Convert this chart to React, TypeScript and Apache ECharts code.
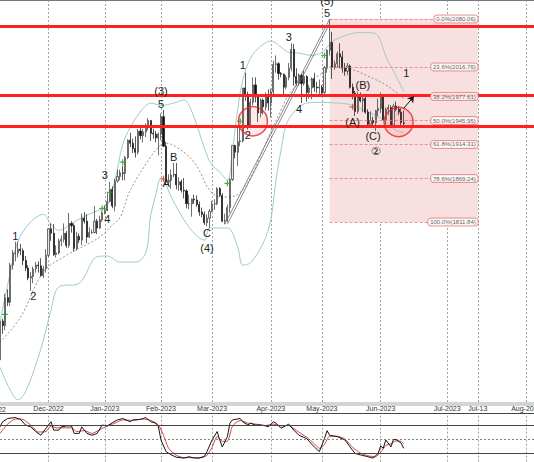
import React, { useEffect, useRef } from "react";
import * as echarts from "echarts";

// ---------- axis definition ----------
const START_DATE = "2022-11-04";
const LAST_BAR_DATE = "2023-06-14";
const AXIS_END_DATE = "2023-08-04";

const TICK_LABELS: Record<string, string> = {
  "2022-12-01": "Dec-2022",
  "2023-01-02": "Jan-2023",
  "2023-02-01": "Feb-2023",
  "2023-03-01": "Mar-2023",
  "2023-04-03": "Apr-2023",
  "2023-05-01": "May-2023",
  "2023-06-01": "Jun-2023",
  "2023-07-01": "Jul-2023",
  "2023-07-13": "Jul-13",
  "2023-08-01": "Aug-2023",
};
const LEFT_CUT_LABEL = "Nov-2022";

// ---------- daily bars [open, close, low, high] ----------
const OHLC: number[][] = [
  [1630, 1681, 1628, 1682], [1681, 1675, 1664, 1684], [1675, 1712, 1669, 1717], [1712, 1706, 1701, 1723],
  [1706, 1755, 1701, 1758], [1755, 1771, 1749, 1775], [1771, 1771, 1760, 1786], [1771, 1776, 1765, 1786],
  [1776, 1774, 1768, 1783], [1774, 1761, 1755, 1777], [1761, 1751, 1747, 1767], [1751, 1738, 1735, 1755],
  [1738, 1740, 1721, 1746], [1740, 1750, 1731, 1753], [1750, 1755, 1745, 1759], [1755, 1754, 1745, 1760],
  [1754, 1741, 1740, 1764], [1741, 1750, 1738, 1754], [1750, 1768, 1745, 1776],
  // Dec
  [1768, 1803, 1766, 1804], [1803, 1797, 1787, 1810], [1797, 1769, 1767, 1809], [1769, 1771, 1765, 1781],
  [1771, 1787, 1769, 1790], [1787, 1789, 1780, 1794], [1789, 1797, 1785, 1810], [1797, 1781, 1778, 1800],
  [1781, 1810, 1778, 1824], [1810, 1807, 1798, 1813], [1807, 1777, 1773, 1810], [1777, 1793, 1774, 1799],
  [1793, 1788, 1784, 1797], [1788, 1817, 1781, 1823], [1817, 1813, 1810, 1825], [1813, 1792, 1784, 1822],
  [1792, 1798, 1791, 1805], [1798, 1798, 1796, 1802], [1798, 1813, 1797, 1833], [1813, 1804, 1796, 1816],
  [1804, 1815, 1803, 1820], [1815, 1824, 1812, 1826],
  // Jan
  [1824, 1827, 1822, 1834], [1827, 1839, 1829, 1850], [1839, 1855, 1838, 1865], [1855, 1833, 1830, 1859],
  [1833, 1866, 1826, 1869], [1866, 1872, 1864, 1881], [1872, 1877, 1867, 1881], [1877, 1876, 1867, 1886],
  [1876, 1897, 1867, 1899], [1897, 1920, 1895, 1921], [1920, 1916, 1911, 1930], [1916, 1909, 1903, 1922],
  [1909, 1904, 1897, 1925], [1904, 1932, 1901, 1935], [1932, 1926, 1921, 1937], [1926, 1931, 1917, 1935],
  [1931, 1937, 1924, 1942], [1937, 1946, 1933, 1949], [1946, 1929, 1919, 1946], [1929, 1928, 1922, 1935],
  [1928, 1923, 1917, 1932], [1923, 1928, 1900, 1930],
  // Feb
  [1928, 1951, 1920, 1955], [1951, 1912, 1911, 1960], [1912, 1865, 1861, 1918], [1865, 1867, 1860, 1875],
  [1867, 1874, 1856, 1881], [1874, 1875, 1871, 1890], [1875, 1861, 1855, 1890], [1861, 1865, 1853, 1871],
  [1865, 1854, 1851, 1868], [1854, 1853, 1843, 1870], [1853, 1836, 1830, 1855], [1836, 1836, 1829, 1848],
  [1836, 1842, 1819, 1843], [1842, 1841, 1836, 1848], [1841, 1835, 1832, 1847], [1835, 1825, 1820, 1839],
  [1825, 1822, 1818, 1831], [1822, 1811, 1808, 1826], [1811, 1817, 1806, 1822], [1817, 1826, 1804, 1829],
  // Mar
  [1826, 1836, 1825, 1840], [1836, 1836, 1828, 1842], [1836, 1856, 1834, 1858], [1856, 1847, 1845, 1858],
  [1847, 1813, 1812, 1850], [1813, 1814, 1809, 1823], [1814, 1831, 1812, 1835], [1831, 1868, 1824, 1870],
  [1868, 1913, 1866, 1913], [1913, 1904, 1896, 1914], [1904, 1918, 1886, 1937], [1918, 1919, 1912, 1937],
  [1919, 1989, 1917, 1989], [1989, 1979, 1972, 2009], [1979, 1940, 1934, 1984], [1940, 1970, 1936, 1975],
  [1970, 1993, 1966, 2003], [1993, 1977, 1970, 2003], [1977, 1956, 1944, 1981], [1956, 1973, 1950, 1975],
  [1973, 1964, 1954, 1975], [1964, 1980, 1959, 1983], [1980, 1969, 1959, 1987],
  // Apr
  [1969, 1984, 1950, 1988], [1984, 2020, 1980, 2025], [2020, 2021, 2009, 2032], [2021, 2008, 2000, 2023],
  [2008, 2007, 2003, 2010], [2007, 1990, 1981, 2008], [1990, 2003, 1987, 2006], [2003, 2015, 1999, 2022],
  [2015, 2040, 2011, 2048], [2040, 2004, 1992, 2047], [2004, 1995, 1992, 2015], [1995, 2006, 1992, 2008],
  [2006, 1995, 1969, 2008], [1995, 2004, 1992, 2012], [2004, 1983, 1971, 2006], [1983, 1989, 1975, 1993],
  [1989, 2001, 1974, 2003], [2001, 1990, 1984, 2009], [1990, 1989, 1982, 1997], [1989, 1990, 1980, 2000],
  // May
  [1990, 1983, 1977, 1993], [1983, 2016, 1978, 2018], [2016, 2039, 2009, 2040], [2039, 2049, 2032, 2080],
  [2049, 2016, 2001, 2063], [2016, 2021, 2013, 2025], [2021, 2034, 2016, 2037], [2034, 2030, 2015, 2048],
  [2030, 2015, 2009, 2038], [2015, 2011, 2005, 2022], [2011, 2018, 2006, 2022], [2018, 1990, 1988, 2020],
  [1990, 1982, 1974, 1995], [1982, 1958, 1952, 1985], [1958, 1977, 1955, 1984], [1977, 1972, 1970, 1983],
  [1972, 1975, 1957, 1978], [1975, 1957, 1955, 1980], [1957, 1941, 1937, 1961], [1941, 1946, 1937, 1958],
  [1946, 1943, 1938, 1951], [1943, 1959, 1932, 1960], [1959, 1962, 1952, 1975],
  // Jun
  [1962, 1978, 1956, 1983], [1978, 1947, 1946, 1979], [1947, 1961, 1938, 1963], [1961, 1963, 1953, 1967],
  [1963, 1940, 1939, 1966], [1940, 1965, 1939, 1968], [1965, 1961, 1958, 1971], [1961, 1957, 1953, 1965],
  [1957, 1943, 1940, 1962], [1943, 1942, 1938, 1959],
];

// ---------- Bollinger bands [barIndex, price] ----------
const BB_UPPER: number[][] = [
  [0, 1680], [3, 1729], [7, 1786], [12, 1812], [17, 1822], [20, 1809], [23, 1801], [29, 1812], [34, 1821],
  [39, 1828], [42, 1834], [45, 1867], [48, 1914], [51, 1937], [56, 1962], [59, 1969], [63, 1966], [68, 1969],
  [72, 1973], [74, 1966], [77, 1940], [81, 1900], [83, 1887], [86, 1878], [89, 1867], [91, 1907], [93, 1960],
  [95, 1999], [98, 2028], [102, 2044], [106, 2051], [110, 2043], [113, 2036], [117, 2035], [122, 2032],
  [126, 2036], [130, 2050], [135, 2058], [140, 2062], [145, 2062], [148, 2058], [151, 2031], [155, 2005], [158, 1984],
];
const BB_MIDDLE: number[][] = [
  [0, 1653], [8, 1686], [17, 1746], [26, 1768], [35, 1784], [39, 1792], [44, 1808], [47, 1818], [51, 1854],
  [59, 1898], [63, 1914], [65, 1916], [69, 1911], [76, 1891], [82, 1854], [86, 1845], [90, 1845], [94, 1851],
  [98, 1870], [102, 1900], [106, 1931], [110, 1960], [113, 1980], [117, 1994], [121, 1999], [125, 2006],
  [130, 2017], [138, 2013], [145, 2003], [151, 1993], [157, 1978], [158, 1975],
];
const BB_LOWER: number[][] = [
  [0, 1620], [4, 1590], [7, 1577], [10, 1588], [14, 1623], [17, 1656], [20, 1696], [23, 1726], [31, 1731],
  [38, 1766], [42, 1767], [47, 1759], [53, 1759], [57, 1771], [59, 1821], [61, 1848], [63, 1870], [65, 1861],
  [67, 1845], [74, 1805], [80, 1788], [82, 1804], [89, 1804], [93, 1779], [95, 1755], [98, 1758], [103, 1784],
  [106, 1815], [108, 1867], [110, 1907], [112, 1940], [115, 1957], [120, 1969], [126, 1970], [132, 1969],
  [137, 1967], [142, 1960], [149, 1949], [155, 1933], [158, 1930],
];

// ---------- levels & annotations ----------
const RESISTANCE_LEVELS = [2071, 1979.5, 1939];
const FIB_START = 129;
const FIB_END = 187;
const FIB_PRICES = [2080.06, 2016.76, 1977.61, 1945.95, 1914.31, 1869.24, 1811.84];
const FIB_TEXTS = ["0.0%(2080.06)", "23.6%(2016.76)", "38.2%(1977.61)", "50.0%(1945.95)", "61.8%(1914.31)", "78.6%(1869.24)", "100.0%(1811.84)"];

const WAVE_LABELS: [string, number, number][] = [
  ["1", 6, 1793], ["2", 13, 1714], ["3", 41, 1874], ["4", 42, 1816],
  ["(3)", 63, 1985], ["5", 63, 1968], ["A", 65, 1863], ["B", 68, 1898],
  ["C", 81, 1797], ["(4)", 81, 1778],
  ["1", 95, 2019], ["2", 97, 1927], ["3", 113, 2056], ["4", 117, 1961],
  ["(5)", 128, 2104], ["5", 128, 2088],
  ["(A)", 138, 1944], ["(B)", 142, 1993], ["(C)", 146, 1925], ["②", 147, 1906],
  ["1", 159, 2009],
];
const GREEN_SIGNALS: number[][] = [[2, 1690], [40, 1830], [43, 1851], [48, 1891], [89, 1863], [94, 1945], [127, 2032]];
const RED_SIGNALS: number[][] = [[64, 1869], [138, 1964]];
const TARGET_ZONES: number[][] = [[99, 1945], [156, 1944]];
const CHANNEL_LINES: number[][][] = [
  [[88, 1809], [129, 2080]],
  [[89, 1809], [129, 2074]],
];
const FORECAST_ARROW: number[][] = [[158, 1962], [162, 1978]];

// ---------- stochastic [barIndex, value] ----------
const STOCH_K: number[][] = [
  [0, 76], [1, 87], [3, 94], [6, 96], [8, 92], [10, 80], [12, 76], [14, 66], [16, 58], [18, 73], [20, 87],
  [21, 69], [23, 69], [24, 76], [26, 78], [28, 78], [29, 62], [31, 62], [32, 76], [34, 62], [36, 58], [38, 62],
  [40, 80], [42, 78], [44, 85], [46, 91], [48, 94], [51, 87], [52, 91], [55, 92], [57, 96], [59, 87], [61, 84],
  [62, 76], [63, 48], [65, 23], [67, 16], [69, 11], [72, 9], [74, 12], [76, 9], [78, 9], [80, 13], [81, 23],
  [83, 48], [85, 66], [86, 48], [87, 33], [89, 55], [90, 84], [91, 91], [94, 94], [95, 87], [97, 80], [98, 84],
  [100, 80], [102, 80], [104, 78], [105, 76], [107, 87], [108, 84], [110, 73], [113, 82], [115, 69], [117, 58],
  [120, 51], [123, 33], [125, 23], [127, 51], [128, 68], [129, 58], [132, 55], [135, 48], [137, 33], [139, 19],
  [141, 16], [144, 12], [146, 9], [148, 19], [149, 35], [150, 30], [151, 48], [153, 33], [154, 49], [155, 49],
  [157, 41], [158, 30],
];
const STOCH_D: number[][] = [
  [0, 62], [3, 82], [6, 93], [9, 92], [12, 80], [15, 65], [18, 66], [20, 78], [22, 74], [25, 74], [28, 74],
  [30, 66], [33, 68], [36, 62], [39, 70], [42, 78], [45, 84], [48, 91], [52, 90], [56, 93], [59, 90], [62, 80],
  [64, 58], [66, 30], [69, 15], [72, 10], [76, 10], [79, 10], [81, 15], [83, 32], [85, 55], [87, 45], [89, 45],
  [91, 78], [94, 90], [97, 84], [100, 82], [104, 79], [107, 82], [110, 78], [113, 79], [116, 68], [120, 54],
  [123, 40], [125, 30], [127, 38], [129, 56], [132, 56], [135, 50], [138, 32], [141, 20], [144, 14], [147, 12],
  [149, 22], [151, 36], [153, 40], [155, 46], [157, 45], [158, 40],
];
const STOCH_LEVELS = [80, 50, 20];

// ---------- helpers ----------
function buildCategories(): string[] {
  const out: string[] = [];
  const d = new Date(START_DATE + "T00:00:00Z");
  const lastBar = new Date(LAST_BAR_DATE + "T00:00:00Z").getTime();
  const end = new Date(AXIS_END_DATE + "T00:00:00Z").getTime();
  while (d.getTime() <= end) {
    const wd = d.getUTCDay();
    if (d.getTime() > lastBar || (wd !== 0 && wd !== 6)) out.push(d.toISOString().slice(0, 10));
    d.setUTCDate(d.getUTCDate() + 1);
  }
  return out;
}

const FONT = "Liberation Sans, Arial, DejaVu Sans, sans-serif";
const INK = "#1e1e1e";
const W = 534;
const H = 462;
const MAIN_H = 404;
const Y_MAX = 2105.16;
const Y_MIN = 1571.5;
const CROSS = "path://M4 0h2v4h4v2h-4v4h-2v-4h-4v-2h4z";

export default function App() {
  const ref = useRef<HTMLDivElement>(null);
  useEffect(() => {
    if (!ref.current) return;
    const chart = echarts.init(ref.current, undefined, { renderer: "svg" });
    const cats = buildCategories();
    const isTick = (_i: number, v: string) => Object.prototype.hasOwnProperty.call(TICK_LABELS, v);
    const vSplit = { show: true, interval: isTick, lineStyle: { color: "#8c8c8c", type: [2, 2] as any, width: 0.8 } };

    const option: any = {
      animation: false,
      backgroundColor: "#ffffff",
      grid: [
        { left: 0, right: 0, top: 0, height: MAIN_H, containLabel: false, outerBoundsMode: "none" },
        { left: 0, right: 0, top: 415.7, height: 46.6, containLabel: false, outerBoundsMode: "none" },
      ],
      xAxis: [
        {
          type: "category", gridIndex: 0, data: cats, boundaryGap: false,
          axisLine: { show: true, lineStyle: { color: "#d4d4d4", width: 4 } },
          axisTick: { show: false },
          axisLabel: {
            interval: isTick, formatter: (v: string) => TICK_LABELS[v] || "",
            fontSize: 7, color: "#333", margin: 1, fontFamily: FONT,
          },
          splitLine: vSplit,
        },
        {
          type: "category", gridIndex: 1, data: cats, boundaryGap: false,
          axisLine: { show: false }, axisTick: { show: false }, axisLabel: { show: false },
          splitLine: vSplit,
        },
      ],
      yAxis: [
        { type: "value", gridIndex: 0, min: Y_MIN, max: Y_MAX, axisLine: { show: false }, axisLabel: { show: false }, axisTick: { show: false }, splitLine: { show: false } },
        { type: "value", gridIndex: 1, min: 0, max: 100, axisLine: { show: false }, axisLabel: { show: false }, axisTick: { show: false }, splitLine: { show: false } },
      ],
      series: [
        // Fibonacci zone
        {
          type: "line", xAxisIndex: 0, yAxisIndex: 0, z: 1, silent: true,
          data: [[FIB_START, FIB_PRICES[0]], [FIB_END, FIB_PRICES[0]]],
          showSymbol: false, lineStyle: { opacity: 0 },
          markArea: {
            silent: true,
            itemStyle: { color: "#f8e0e0" },
            data: [[{ xAxis: FIB_START, yAxis: FIB_PRICES[0] }, { xAxis: FIB_END, yAxis: FIB_PRICES[FIB_PRICES.length - 1] }]],
          },
          markLine: {
            silent: true, symbol: ["none", "none"], label: { show: false },
            lineStyle: { color: "#e07a7a", type: [3, 2], width: 0.8 },
            data: FIB_PRICES.map((p) => [{ coord: [FIB_START, p] }, { coord: [FIB_END, p] }]),
          },
        },
        // Bollinger
        { type: "line", xAxisIndex: 0, yAxisIndex: 0, z: 2, data: BB_UPPER, showSymbol: false, smooth: 0.35, lineStyle: { color: "#9fcbc8", width: 1 } },
        { type: "line", xAxisIndex: 0, yAxisIndex: 0, z: 2, data: BB_LOWER, showSymbol: false, smooth: 0.35, lineStyle: { color: "#9fcbc8", width: 1 } },
        { type: "line", xAxisIndex: 0, yAxisIndex: 0, z: 2, data: BB_MIDDLE, showSymbol: false, smooth: 0.35, lineStyle: { color: "#777", width: 0.8, type: [2, 2] } },
        // bars
        {
          type: "candlestick", xAxisIndex: 0, yAxisIndex: 0, z: 3, data: OHLC, barWidth: 1.6,
          itemStyle: { color: "#e6e6e6", color0: "#111", borderColor: "#333", borderColor0: "#111", borderWidth: 0.7 },
        },
        // resistance lines, channel, arrow
        {
          type: "line", xAxisIndex: 0, yAxisIndex: 0, z: 5, silent: true,
          data: [[0, RESISTANCE_LEVELS[0]]], showSymbol: false, lineStyle: { opacity: 0 },
          markLine: {
            silent: true, symbol: ["none", "none"], label: { show: false },
            data: [
              ...RESISTANCE_LEVELS.map((p) => ({ yAxis: p, lineStyle: { color: "#ff2020", width: 3, type: "solid" } })),
              ...CHANNEL_LINES.map((seg) => [
                { coord: seg[0], lineStyle: { color: "#6a6a6a", width: 0.8, type: "solid" } },
                { coord: seg[1] },
              ]),
              [
                { coord: FORECAST_ARROW[0], symbol: "none", lineStyle: { color: "#111", width: 1, type: "solid" } },
                { coord: FORECAST_ARROW[1], symbol: "arrow", symbolSize: 6 },
              ],
            ],
          },
        },
        // target circles
        {
          type: "scatter", xAxisIndex: 0, yAxisIndex: 0, z: 6, silent: true, data: TARGET_ZONES,
          symbol: "circle", symbolSize: 29,
          itemStyle: { color: "rgba(255,70,70,0.14)", borderColor: "#ee2222", borderWidth: 1.5 },
        },
        // signals
        { type: "scatter", xAxisIndex: 0, yAxisIndex: 0, z: 6, data: GREEN_SIGNALS, symbol: CROSS, symbolSize: 6, itemStyle: { color: "#1d9a1d" } },
        { type: "scatter", xAxisIndex: 0, yAxisIndex: 0, z: 6, data: RED_SIGNALS, symbol: CROSS, symbolSize: 6, itemStyle: { color: "#d03030" } },
        // wave labels
        {
          type: "scatter", xAxisIndex: 0, yAxisIndex: 0, z: 7, silent: true,
          data: WAVE_LABELS.map(([t, i, p]) => ({ name: t, value: [i, p] })),
          symbol: "circle", symbolSize: 0.1, itemStyle: { color: INK, opacity: 1 },
          label: {
            show: true, position: "inside", formatter: "{b}",
            fontSize: 11, color: INK, fontFamily: FONT, textBorderWidth: 0, textBorderColor: INK,
          },
        },
        // fib labels
        {
          type: "scatter", xAxisIndex: 0, yAxisIndex: 0, z: 7, silent: true,
          data: FIB_PRICES.map((p, k) => ({ name: FIB_TEXTS[k], value: [FIB_END, p] })),
          symbol: "circle", symbolSize: 0.1, itemStyle: { color: "#333" },
          label: {
            show: true, position: "left", distance: 0, formatter: "{b}", fontSize: 6, color: "#333", fontFamily: FONT,
            backgroundColor: "#fff", borderColor: "#e08080", borderWidth: 1, borderRadius: 3, padding: [1, 2, 0, 2],
          },
        },
        // stochastic
        {
          type: "line", xAxisIndex: 1, yAxisIndex: 1, z: 3, data: STOCH_D, showSymbol: false, smooth: 0.2,
          lineStyle: { color: "#d04545", width: 1 },
        },
        {
          type: "line", xAxisIndex: 1, yAxisIndex: 1, z: 4, data: STOCH_K, showSymbol: false,
          lineStyle: { color: "#151515", width: 1 },
          markLine: {
            silent: true, symbol: ["none", "none"], label: { show: false },
            data: STOCH_LEVELS.map((v) => ({
              yAxis: v,
              lineStyle: v === 50 ? { color: "#666", width: 0.8, type: [2, 2] } : { color: "#444", width: 1, type: "solid" },
            })),
          },
        },
      ],
      graphic: [
        { type: "line", shape: { x1: 0, y1: 0.5, x2: W, y2: 0.5 }, style: { stroke: "#777", lineWidth: 1 }, silent: true },
        { type: "line", shape: { x1: 0, y1: 413.5, x2: W, y2: 413.5 }, style: { stroke: "#444", lineWidth: 1 }, silent: true },
        { type: "text", x: 6, y: 406, style: { text: LEFT_CUT_LABEL, fontSize: 7, fill: "#333", align: "right", fontFamily: FONT }, silent: true },
      ],
    };
    chart.setOption(option);
    return () => chart.dispose();
  }, []);
  return <div ref={ref} style={{ position: "fixed", left: 0, top: 0, width: W, height: H, background: "#fff" }} />;
}
